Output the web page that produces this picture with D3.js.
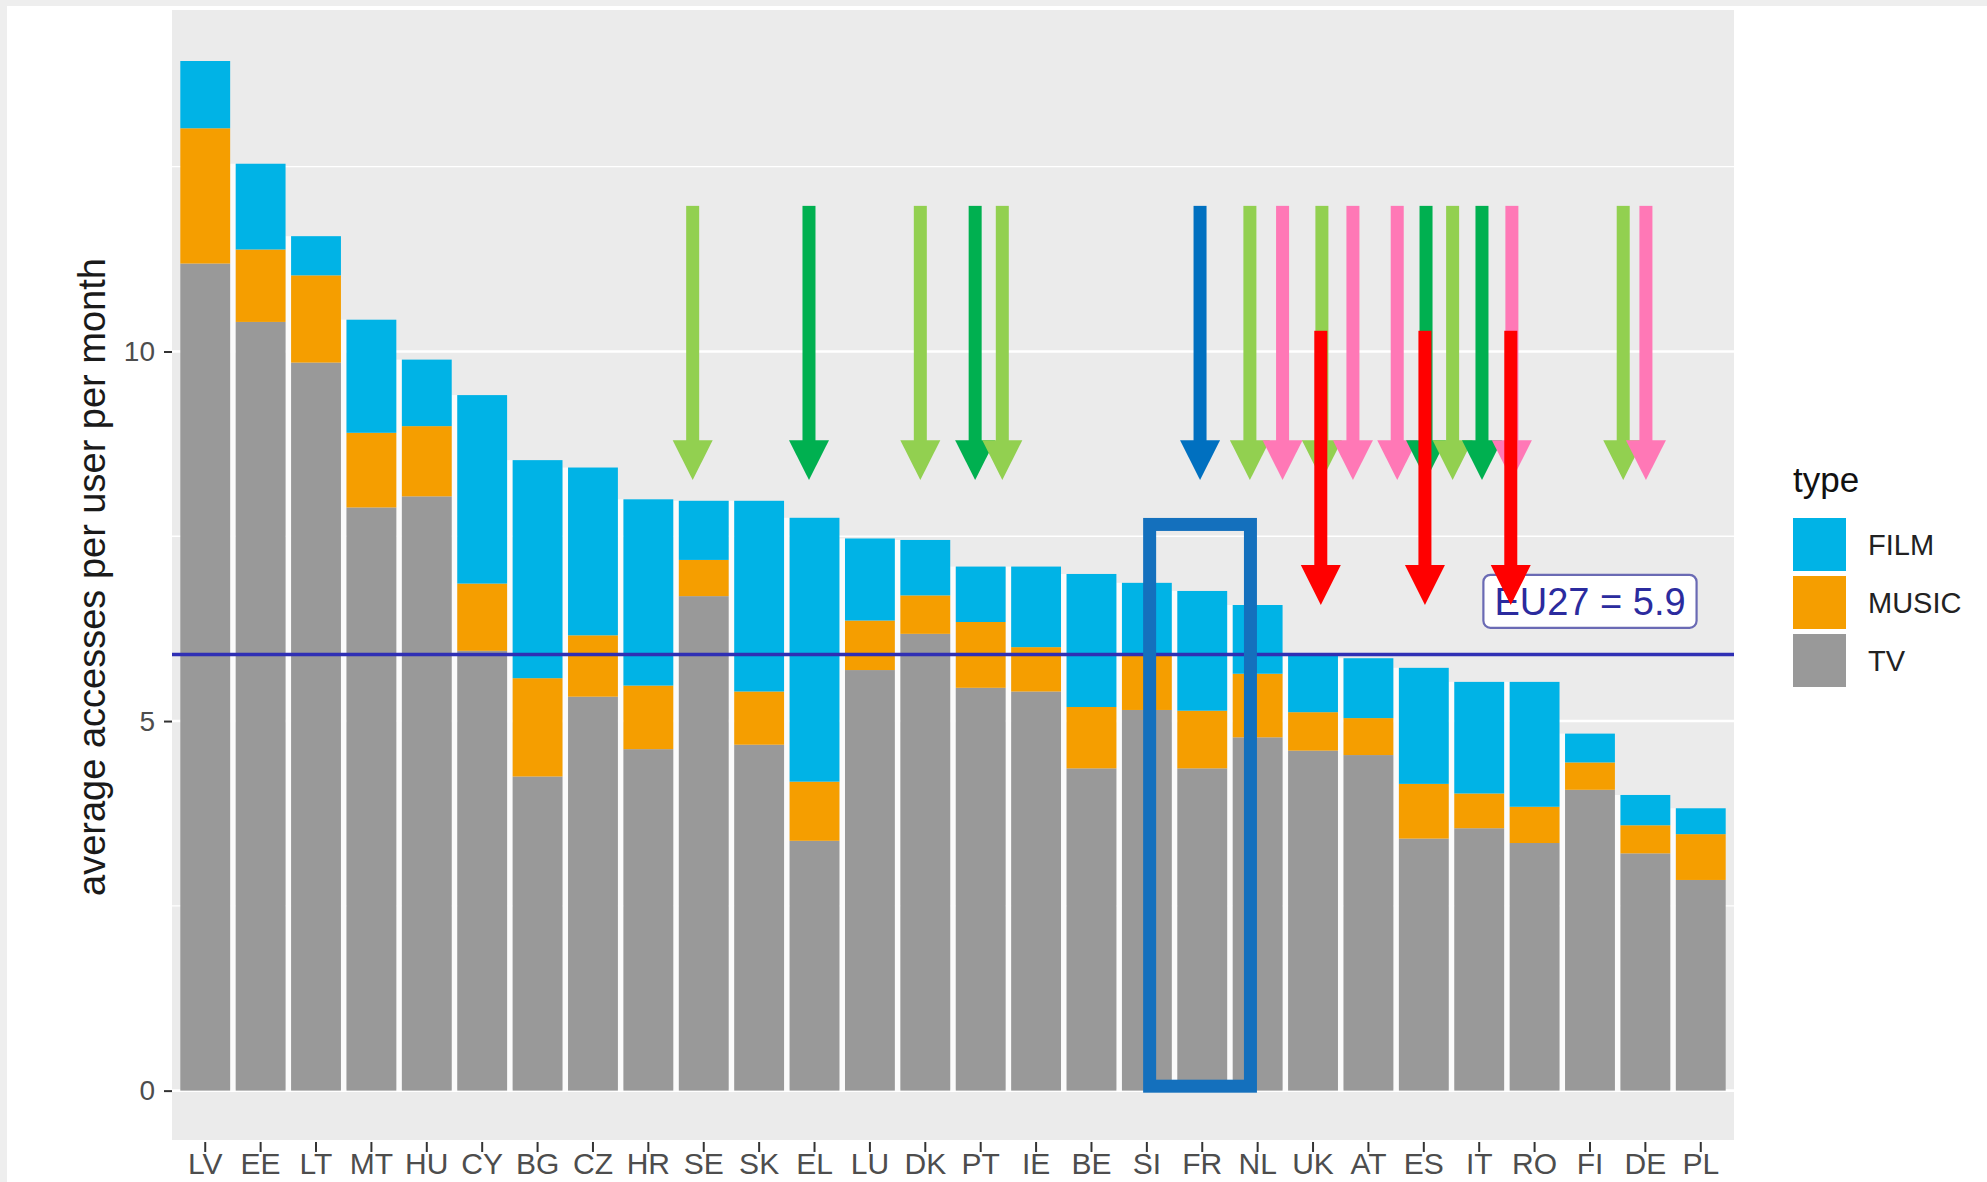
<!DOCTYPE html>
<html>
<head>
<meta charset="utf-8">
<script src="https://cdn.jsdelivr.net/npm/d3@7"></script>
<style>
  body { margin: 0; background: #fff; }
  svg { display: block; font-family: "Liberation Sans", Arial, sans-serif; }
</style>
</head>
<body>
<svg id="chart" width="1987" height="1182"></svg>
<script>
// values, countries in plotted order
var countries = ["LV","EE","LT","MT","HU","CY","BG","CZ","HR","SE","SK","EL","LU","DK","PT","IE","BE","SI","FR","NL","UK","AT","ES","IT","RO","FI","DE","PL"];
var tv    = [11.19,10.40,9.85,7.89,8.04,5.95,4.25,5.33,4.62,6.69,4.68,3.38,5.69,6.18,5.45,5.40,4.36,5.15,4.36,4.78,4.60,4.54,3.41,3.55,3.35,4.07,3.21,2.85];
var music = [1.83,0.98,1.18,1.01,0.95,0.91,1.33,0.83,0.86,0.49,0.72,0.80,0.67,0.52,0.89,0.60,0.83,0.75,0.78,0.86,0.52,0.50,0.74,0.47,0.49,0.37,0.38,0.62];
var film  = [0.91,1.16,0.53,1.53,0.90,2.55,2.95,2.27,2.52,0.80,2.58,3.57,1.11,0.75,0.75,1.09,1.80,0.97,1.62,0.93,0.79,0.81,1.57,1.51,1.69,0.39,0.41,0.35];
var types = ["FILM","MUSIC","TV"];
var yTicks = [0, 5, 10];
var yMinor = [2.5, 7.5, 12.5];
var eu27 = 5.9;
var euLabelAt = "FI", euLabelY = 6.62;

// annotations drawn on top of the chart (position in category steps from LV)
var arrowAt     = [8.80,10.90,12.91,13.90,14.39,17.96,18.86,19.45,20.16,20.72,21.52,22.04,22.52,23.05,23.59,25.60,26.01];
var arrowColour = ["#92d050","#00b050","#92d050","#00b050","#92d050","#0070c0","#92d050","#ff78b6","#92d050","#ff78b6","#ff78b6","#00b050","#92d050","#00b050","#ff78b6","#92d050","#ff78b6"];
var redAt = [20.14, 22.02, 23.57];
var boxFrom = 17.05, boxTo = 18.87, boxTop = 7.66, boxBottom = 0.06;

var colours = {FILM: "#00b3e6", MUSIC: "#f59e00", TV: "#999999"};

var svg = d3.select("#chart");
var panel = {left: 172, right: 1734, top: 10, bottom: 1140};

// light frame of the screenshot
svg.append("rect").attr("x", 0).attr("y", 0).attr("width", 1987).attr("height", 6).attr("fill", "#eeeeee");
svg.append("rect").attr("x", 0).attr("y", 0).attr("width", 7).attr("height", 1182).attr("fill", "#eeeeee");

var x = d3.scaleBand().domain(countries).range([panel.left, panel.right])
    .paddingInner(0.1).paddingOuter(0.15);
var y = d3.scaleLinear().domain([-0.668, 14.62]).range([panel.bottom, panel.top]);
var xAt = function(f) { return x(countries[0]) + x.bandwidth() / 2 + f * x.step(); };

svg.append("rect")
    .attr("x", panel.left).attr("y", panel.top)
    .attr("width", panel.right - panel.left).attr("height", panel.bottom - panel.top)
    .attr("fill", "#ebebeb");

svg.selectAll("line.minor").data(yMinor).enter().append("line")
    .attr("x1", panel.left).attr("x2", panel.right)
    .attr("y1", function(d) { return y(d); }).attr("y2", function(d) { return y(d); })
    .attr("stroke", "#fff").attr("stroke-width", 1.3);
svg.selectAll("line.major").data(yTicks).enter().append("line")
    .attr("x1", panel.left).attr("x2", panel.right)
    .attr("y1", function(d) { return y(d); }).attr("y2", function(d) { return y(d); })
    .attr("stroke", "#fff").attr("stroke-width", 2.6);

var rows = countries.map(function(c, i) {
    return {country: c, TV: tv[i], MUSIC: music[i], FILM: film[i]};
});
var totals = rows.map(function(r) { return r.TV + r.MUSIC + r.FILM; });

// white gaps between neighbouring bars
svg.selectAll("rect.gap").data(countries.slice(0, -1)).enter().append("rect")
    .attr("x", function(c) { return x(c) + x.bandwidth(); })
    .attr("width", x.step() - x.bandwidth())
    .attr("y", function(c, i) { return y(Math.min(totals[i], totals[i + 1])); })
    .attr("height", function(c, i) { return y(0) - y(Math.min(totals[i], totals[i + 1])); })
    .attr("fill", "#fbfbfb");

var stack = d3.stack().keys(["TV", "MUSIC", "FILM"])(rows);
svg.selectAll("g.layer").data(stack).enter().append("g")
    .attr("fill", function(d) { return colours[d.key]; })
  .selectAll("rect").data(function(d) { return d; }).enter().append("rect")
    .attr("x", function(d) { return x(d.data.country); })
    .attr("width", x.bandwidth())
    .attr("y", function(d) { return y(d[1]); })
    .attr("height", function(d) { return y(d[0]) - y(d[1]); });

// EU27 average
svg.append("line")
    .attr("x1", panel.left).attr("x2", panel.right)
    .attr("y1", y(eu27)).attr("y2", y(eu27))
    .attr("stroke", "#2f2fb4").attr("stroke-width", 3.4);

var lab = svg.append("g");
var labBox = lab.append("rect").attr("fill", "#fff").attr("stroke", "#6a6ab4")
    .attr("stroke-width", 2.2).attr("rx", 7);
var labText = lab.append("text")
    .attr("x", x(euLabelAt) + x.bandwidth() / 2).attr("y", y(euLabelY))
    .attr("dy", "0.36em").attr("text-anchor", "middle")
    .attr("font-size", 38).attr("fill", "#2b2b9e")
    .text("EU27 = " + eu27);
var bb = labText.node().getBBox();
labBox.attr("x", bb.x - 11).attr("width", bb.width + 22)
    .attr("y", y(euLabelY) - 26.5).attr("height", 53);

// axes
var yAxis = svg.append("g").attr("transform", "translate(" + panel.left + ",0)")
    .call(d3.axisLeft(y).tickValues(yTicks).tickSize(8).tickPadding(9));
var xAxis = svg.append("g").attr("transform", "translate(0," + (panel.bottom + 2) + ")")
    .call(d3.axisBottom(x).tickSize(10).tickPadding(1));
[yAxis, xAxis].forEach(function(a) {
    a.select(".domain").remove();
    a.selectAll(".tick line").attr("stroke", "#333").attr("stroke-width", 2);
    a.selectAll(".tick text").attr("fill", "#4d4d4d").attr("font-family", "Liberation Sans, Arial, sans-serif");
});
yAxis.selectAll(".tick text").attr("font-size", 28);
xAxis.selectAll(".tick text").attr("font-size", 30);

svg.append("text")
    .attr("transform", "translate(105,577) rotate(-90)")
    .attr("text-anchor", "middle").attr("font-size", 38).attr("fill", "#1a1a1a")
    .text("average accesses per user per month");

// legend
var legend = svg.append("g").attr("transform", "translate(1793,0)");
legend.append("text").attr("x", 0).attr("y", 492).attr("font-size", 35).attr("fill", "#111").text("type");
var keys = legend.selectAll("g.key").data(types).enter().append("g")
    .attr("transform", function(d, i) { return "translate(0," + (518 + i * 58) + ")"; });
keys.append("rect").attr("width", 53).attr("height", 53).attr("fill", function(d) { return colours[d]; });
keys.append("text").attr("x", 75).attr("y", 26.5).attr("dy", "0.36em")
    .attr("font-size", 29).attr("fill", "#222").text(function(d) { return d; });

// highlight box and arrows
svg.append("rect")
    .attr("x", xAt(boxFrom)).attr("width", xAt(boxTo) - xAt(boxFrom))
    .attr("y", y(boxTop)).attr("height", y(boxBottom) - y(boxTop))
    .attr("fill", "none").attr("stroke", "#1470bd").attr("stroke-width", 13);

function arrow(pos, colour, top, base, tip) {
    var cx = xAt(pos);
    var g = svg.append("g").attr("fill", colour);
    g.append("rect").attr("x", cx - 6.5).attr("width", 13)
        .attr("y", y(top)).attr("height", y(base) - y(top) + 1);
    g.append("path").attr("d", "M" + (cx - 20) + "," + y(base) + "L" + (cx + 20) + "," + y(base) + "L" + cx + "," + y(tip) + "Z");
}
arrowAt.forEach(function(p, i) { arrow(p, arrowColour[i], 11.97, 8.80, 8.26); });
redAt.forEach(function(p) { arrow(p, "#ff0000", 10.28, 7.11, 6.57); });
</script>
</body>
</html>
